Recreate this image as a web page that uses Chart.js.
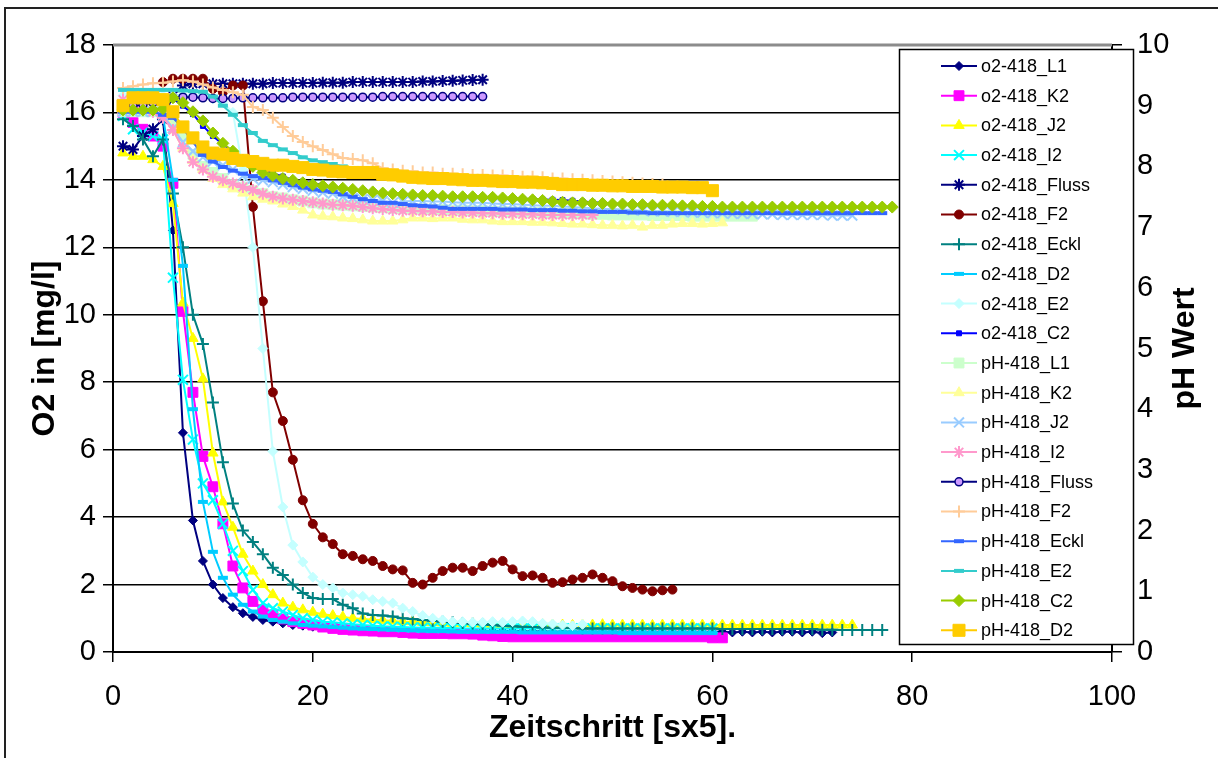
<!DOCTYPE html>
<html><head><meta charset="utf-8">
<script src="https://cdn.jsdelivr.net/npm/chart.js@4.4.1/dist/chart.umd.min.js"></script>
<style>html,body{margin:0;padding:0;background:#fff;}#wrap{width:1218px;height:758px;position:relative;}</style>
</head><body><div id="wrap"><canvas id="c" width="1218" height="758"></canvas></div>
<script>
// ---- DATA (x = time step 1,2,3,...) ----
const o2_L1 = [16.1,16.0,16.0,16.0,15.8,12.5,6.5,3.9,2.7,2.0,
 1.6,1.33,1.15,1.04,0.95,0.9,0.85,0.8,0.78,0.75,
 0.73,0.72,0.7,0.7,0.69,0.68,0.67,0.66,0.66,0.65,
 0.65,0.64,0.64,0.63,0.63,0.63,0.62,0.62,0.62,0.62,
 0.61,0.61,0.61,0.6,0.6,0.6,0.6,0.6,0.6,0.6,
 0.6,0.6,0.6,0.6,0.6,0.6,0.6,0.6,0.6,0.6,
 0.6,0.58,0.6,0.58,0.6,0.58,0.6,0.6,0.58,0.6,
 0.56,0.58];
const o2_K2 = [16.0,15.7,15.5,15.3,15.0,13.9,10.1,7.7,5.8,4.9,
 3.8,2.55,1.9,1.5,1.25,1.1,0.98,0.9,0.85,0.8,
 0.74,0.7,0.67,0.65,0.63,0.62,0.6,0.6,0.58,0.56,
 0.55,0.55,0.55,0.54,0.54,0.53,0.5,0.48,0.46,0.45,
 0.45,0.45,0.45,0.45,0.45,0.45,0.45,0.45,0.45,0.45,
 0.45,0.45,0.45,0.45,0.45,0.45,0.45,0.45,0.45,0.42,0.42];
const o2_J2 = [14.8,14.7,14.7,14.6,14.4,13.3,10.35,9.3,8.1,5.9,
 4.45,3.7,2.9,2.4,2.0,1.7,1.45,1.33,1.25,1.18,
 1.12,1.08,1.04,1.0,0.98,0.96,0.94,0.92,0.9,0.9,
 0.88,0.87,0.86,0.85,0.85,0.84,0.83,0.82,0.82,0.8,
 0.8,0.8,0.81,0.8,0.8,0.79,0.8,0.8,0.81,0.8,
 0.8,0.8,0.8,0.79,0.8,0.8,0.8,0.8,0.8,0.8,
 0.8,0.8,0.8,0.8,0.8,0.8,0.8,0.8,0.8,0.8,
 0.8,0.8,0.8,0.8];
const o2_I2 = [15.9,15.5,15.4,15.3,15.2,11.1,8.07,6.3,5.0,4.5,
 3.8,3.0,2.4,1.84,1.45,1.3,1.2,1.1,1.0,0.95,
 0.9,0.88,0.85,0.82,0.8,0.78,0.76,0.75,0.74,0.73,
 0.72,0.72,0.71,0.71,0.7,0.7,0.7,0.7,0.7,0.7,
 0.7,0.7,0.7,0.7,0.7,0.7,0.7,0.7,0.7,0.7,
 0.7,0.7,0.7,0.7,0.7,0.7,0.7,0.7,0.7,0.7];
const o2_Fluss = [15.0,14.9,15.3,15.5,15.8,16.5,16.8,16.85,16.85,16.85,
 16.85,16.85,16.85,16.85,16.85,16.87,16.87,16.87,16.87,16.87,
 16.88,16.88,16.88,16.9,16.9,16.9,16.9,16.9,16.9,16.9,
 16.92,16.92,16.93,16.94,16.95,16.96,16.97];
const o2_F2 = [null,null,null,null,16.9,17.0,17.0,17.0,17.0,16.7,
 16.6,16.8,16.8,13.2,10.4,7.7,6.85,5.7,4.5,3.8,
 3.4,3.2,2.9,2.85,2.75,2.7,2.55,2.45,2.42,2.05,
 2.0,2.2,2.4,2.5,2.5,2.4,2.55,2.65,2.7,2.45,
 2.25,2.27,2.2,2.05,2.07,2.15,2.2,2.3,2.2,2.1,
 1.95,1.9,1.85,1.8,1.83,1.85];
const o2_Eckl = [15.8,15.6,15.2,14.7,15.2,13.6,12.0,10.0,9.13,7.4,
 5.63,4.4,3.6,3.26,2.9,2.5,2.28,2.0,1.75,1.6,
 1.57,1.57,1.4,1.3,1.14,1.1,1.08,1.05,1.0,0.98,
 0.95,0.93,0.9,0.88,0.86,0.84,0.82,0.8,0.78,0.76,
 0.75,0.74,0.73,0.72,0.72,0.71,0.7,0.7,0.7,0.7,
 0.7,0.7,0.7,0.7,0.7,0.7,0.7,0.7,0.7,0.7,
 0.68,0.68,0.68,0.68,0.68,0.68,0.68,0.68,0.68,0.68,
 0.66,0.66,0.65,0.65,0.65,0.65,0.65];
const o2_D2 = [16.1,16.1,16.0,16.0,15.9,14.0,11.45,7.2,4.45,2.97,
 2.2,1.7,1.4,1.2,1.05,0.95,0.9,0.85,0.8,0.78,
 0.76,0.74,0.72,0.7,0.69,0.68,0.67,0.66,0.65,0.64,
 0.63,0.62,0.62,0.61,0.6,0.6,0.6,0.6,0.6,0.6,
 0.58,0.58,0.58,0.58,0.58,0.58,0.58,0.58,0.58,0.58,
 0.56,0.56,0.56,0.56,0.56,0.56,0.56,0.56,0.56,0.56];
const o2_E2 = [16.5,16.5,16.5,16.5,16.5,16.5,16.5,16.5,16.5,16.4,
 16.3,16.0,14.3,12.0,9.0,5.95,4.3,3.17,2.67,2.22,
 2.0,1.9,1.75,1.7,1.65,1.55,1.5,1.45,1.3,1.2,
 1.08,1.0,0.95,0.9,0.9,0.88,0.88,0.9,0.88,0.9,
 0.92,0.9,0.85,0.83,0.8,0.78,0.82];
const o2_C2 = [16.2,16.2,16.2,16.2,16.3,16.4,16.2,15.95,15.6,15.3,
 15.05,14.85,14.6,14.45,14.3,14.2,14.1,14.0,13.95,13.9,
 13.85,13.8,13.75,13.7,13.67,13.64,13.6,13.58,13.56,13.55,
 13.54,13.53,13.52,13.51,13.5,13.49,13.48,13.47,13.46,13.45,
 13.44,13.43,13.42,13.41,13.4,13.38,13.36,13.34,13.32,13.3,
 13.29,13.28,13.27,13.26,13.25,13.24,13.23,13.22,13.21,13.2,
 13.2,13.2,13.2,13.2,13.2,13.2,13.2,13.2,13.2,13.2,
 13.2,13.2,13.2,13.2,13.2,13.2,13.2,13.2];
const pH_L1 = [8.9,8.9,8.9,8.9,8.9,8.76,8.5,8.2,8.0,7.9,
 7.8,7.7,7.65,7.6,7.55,7.5,7.48,7.45,7.43,7.4,
 7.38,7.37,7.36,7.35,7.34,7.33,7.32,7.31,7.31,7.3,
 7.3,7.29,7.29,7.28,7.28,7.27,7.27,7.26,7.26,7.25,
 7.25,7.24,7.24,7.23,7.23,7.22,7.22,7.21,7.21,7.2,
 7.2,7.2,7.2,7.19,7.19,7.19,7.19,7.18,7.18,7.18,
 7.18,7.18,7.18,7.18];
const pH_K2 = [9.0,9.0,9.0,9.0,9.0,8.6,8.3,8.1,7.95,7.8,
 7.7,7.63,7.56,7.5,7.46,7.43,7.38,7.34,7.28,7.2,
 7.18,7.17,7.15,7.14,7.12,7.1,7.1,7.1,7.12,7.15,
 7.15,7.14,7.15,7.15,7.13,7.12,7.12,7.1,7.09,7.09,
 7.09,7.08,7.08,7.07,7.06,7.05,7.05,7.04,7.03,7.03,
 7.02,7.03,7.0,7.03,7.03,7.05,7.06,7.06,7.05,7.06,7.07];
const pH_J2 = [8.9,8.9,8.9,8.9,8.85,8.63,8.4,8.25,8.15,8.08,
 8.02,7.95,7.84,7.8,7.77,7.74,7.7,7.66,7.63,7.6,
 7.57,7.55,7.5,7.48,7.46,7.45,7.43,7.4,7.42,7.43,
 7.43,7.42,7.42,7.41,7.4,7.4,7.4,7.39,7.38,7.38,
 7.37,7.36,7.35,7.35,7.34,7.33,7.32,7.31,7.3,7.3,
 7.29,7.28,7.27,7.26,7.26,7.25,7.25,7.24,7.24,7.23,
 7.23,7.22,7.22,7.22,7.21,7.21,7.2,7.2,7.2,7.2,
 7.2,7.19,7.19,7.19];
const pH_I2 = [9.1,9.0,8.95,8.9,8.8,8.6,8.3,8.07,7.95,7.83,
 7.77,7.72,7.66,7.61,7.55,7.5,7.47,7.45,7.43,7.41,
 7.39,7.37,7.36,7.35,7.33,7.31,7.3,7.28,7.27,7.27,
 7.26,7.26,7.25,7.25,7.24,7.24,7.23,7.23,7.22,7.22,
 7.21,7.21,7.2,7.2,7.2,7.2,7.2,7.2];
const pH_Fluss = [8.95,9.0,9.02,9.05,9.1,9.13,9.14,9.14,9.13,9.12,
 9.12,9.12,9.13,9.13,9.13,9.13,9.13,9.14,9.14,9.14,
 9.14,9.14,9.14,9.14,9.14,9.14,9.15,9.15,9.15,9.15,
 9.15,9.15,9.15,9.15,9.15,9.15,9.15];
const pH_F2 = [9.29,9.32,9.35,9.37,9.38,9.4,9.42,9.4,9.35,9.3,
 9.26,9.22,9.18,8.98,8.93,8.8,8.65,8.5,8.4,8.33,
 8.27,8.2,8.14,8.12,8.1,8.05,7.97,7.95,7.93,7.92,
 7.9,7.9,7.88,7.88,7.87,7.86,7.86,7.85,7.85,7.84,
 7.83,7.83,7.82,7.8,7.8,7.79,7.78,7.77,7.76,7.75,
 7.74,7.73,7.72,7.71,7.7];
const pH_Eckl = [8.9,8.9,8.9,8.9,8.85,8.8,8.63,8.4,8.19,8.08,
 7.99,7.93,7.88,7.84,7.81,7.77,7.73,7.69,7.65,7.62,
 7.6,7.58,7.54,7.5,7.46,7.43,7.4,7.4,7.38,7.36,
 7.35,7.34,7.32,7.3,7.3,7.3,7.3,7.3,7.29,7.29,
 7.29,7.28,7.28,7.28,7.27,7.27,7.26,7.26,7.25,7.25,
 7.25,7.24,7.24,7.23,7.23,7.23,7.23,7.23,7.23,7.23,
 7.23,7.23,7.23,7.23,7.23,7.23,7.23,7.23,7.23,7.23,
 7.23,7.23,7.23,7.23,7.23,7.23,7.23];
const pH_E2 = [9.26,9.26,9.26,9.26,9.26,9.26,9.25,9.24,9.23,9.15,
 9.0,8.85,8.68,8.55,8.42,8.35,8.28,8.22,8.15,8.1,
 8.07,8.04,8.0,7.97,7.95,7.92,7.9,7.88,7.86,7.85,
 7.84,7.83,7.82,7.81,7.8,7.8,7.79,7.78,7.78,7.77,
 7.76,7.76,7.75,7.74,7.74,7.73,7.72,7.72,7.71,7.7];
const pH_C2 = [8.93,8.93,8.93,8.93,8.95,9.13,9.05,8.9,8.75,8.55,
 8.38,8.25,8.1,8.0,7.9,7.85,7.8,7.77,7.73,7.7,
 7.68,7.66,7.64,7.62,7.6,7.58,7.56,7.55,7.54,7.53,
 7.52,7.52,7.51,7.5,7.5,7.5,7.49,7.49,7.48,7.47,
 7.46,7.45,7.44,7.42,7.41,7.4,7.4,7.39,7.39,7.38,
 7.38,7.37,7.37,7.36,7.36,7.36,7.35,7.35,7.34,7.34,
 7.33,7.33,7.33,7.33,7.33,7.33,7.33,7.33,7.33,7.33,
 7.33,7.33,7.33,7.33,7.33,7.33,7.33,7.33];
const pH_D2 = [9.0,9.13,9.13,9.13,9.1,8.9,8.65,8.47,8.32,8.22,
 8.2,8.13,8.1,8.08,8.05,8.02,8.02,8.0,7.98,7.95,
 7.94,7.92,7.91,7.9,7.9,7.9,7.87,7.86,7.84,7.82,
 7.81,7.8,7.8,7.79,7.78,7.77,7.77,7.76,7.75,7.75,
 7.74,7.74,7.73,7.72,7.7,7.7,7.7,7.69,7.69,7.68,
 7.68,7.67,7.67,7.67,7.66,7.66,7.66,7.65,7.65,7.6];

const seriesNames = ['o2-418_L1','o2-418_K2','o2-418_J2','o2-418_I2','o2-418_Fluss','o2-418_F2','o2-418_Eckl','o2-418_D2','o2-418_E2','o2-418_C2',
 'pH-418_L1','pH-418_K2','pH-418_J2','pH-418_I2','pH-418_Fluss','pH-418_F2','pH-418_Eckl','pH-418_E2','pH-418_C2','pH-418_D2'];
const seriesValues = [o2_L1,o2_K2,o2_J2,o2_I2,o2_Fluss,o2_F2,o2_Eckl,o2_D2,o2_E2,o2_C2,
 pH_L1,pH_K2,pH_J2,pH_I2,pH_Fluss,pH_F2,pH_Eckl,pH_E2,pH_C2,pH_D2];
const o2Ticks = [0,2,4,6,8,10,12,14,16,18];
const pHTicks = [0,1,2,3,4,5,6,7,8,9,10];
const xTicks = [0,20,40,60,80,100];

// ---- STYLES ----
const styles = [
 {c:'#000080', ps:'rectRot', r:4.5},
 {c:'#FF00FF', ps:'rect', r:7},
 {c:'#FFFF00', ps:'triangle', r:6},
 {c:'#00FFFF', ps:'crossRot', r:7, bw:2},
 {c:'#000080', ps:'star', r:6, bw:2},
 {c:'#800000', ps:'circle', r:4.5},
 {c:'#008080', ps:'cross', r:6, bw:2},
 {c:'#00CCFF', ps:'line', r:5, bw:4},
 {c:'#C4FFFF', ps:'rectRot', r:5},
 {c:'#0000FF', ps:'rect', r:3.5},
 {c:'#CCFFCC', ps:'rect', r:7},
 {c:'#FFFF99', ps:'triangle', r:6},
 {c:'#99CCFF', ps:'crossRot', r:7, bw:2},
 {c:'#FF99CC', ps:'star', r:6, bw:2},
 {c:'#000080', ps:'circle', r:4, fill:'#CC99FF', bw:1.5},
 {c:'#FFCC99', ps:'cross', r:6, bw:2},
 {c:'#3366FF', ps:'line', r:5, bw:4},
 {c:'#33CCCC', ps:'line', r:5, bw:4},
 {c:'#99CC00', ps:'rectRot', r:6},
 {c:'#FFCC00', ps:'rect', r:8.5}
];

const N = seriesNames.length;
const datasets = seriesNames.map((name, i) => {
  const s = styles[i];
  return {
    label: name,
    data: seriesValues[i].map((v, k) => ({x: k + 1, y: v})),
    yAxisID: i < 10 ? 'y' : 'y2',
    borderColor: s.c,
    backgroundColor: s.c,
    borderWidth: 2,
    pointStyle: s.ps,
    pointRadius: s.r,
    pointHoverRadius: s.r,
    pointBackgroundColor: s.fill || s.c,
    pointBorderColor: s.c,
    pointBorderWidth: s.bw || 1,
    tension: 0,
    spanGaps: false,
    order: N - i
  };
});

const FONT = "'Liberation Sans', Arial, sans-serif";

const framePlugin = {
  id: 'frame',
  beforeDraw(chart) {
    const ctx = chart.ctx;
    ctx.save();
    ctx.fillStyle = '#fff';
    ctx.fillRect(0, 0, chart.width, chart.height);
    ctx.strokeStyle = '#222';
    ctx.lineWidth = 2;
    ctx.beginPath();
    ctx.moveTo(5, 760); ctx.lineTo(5, 8); ctx.lineTo(1220, 8);
    ctx.stroke();
    ctx.restore();
  },
  afterDraw(chart) {
    const ctx = chart.ctx;
    const ca = chart.chartArea;
    ctx.save();
    // grey plot-area top border
    ctx.strokeStyle = '#8c8c8c';
    ctx.lineWidth = 3;
    ctx.beginPath(); ctx.moveTo(ca.left, ca.top); ctx.lineTo(ca.right, ca.top); ctx.stroke();
    // right axis title
    ctx.fillStyle = '#000';
    ctx.font = "bold 32px " + FONT;
    ctx.textAlign = 'center';
    ctx.textBaseline = 'middle';
    ctx.translate(1185, (ca.top + ca.bottom) / 2);
    ctx.rotate(-Math.PI / 2);
    ctx.fillText('pH Wert', 0, 0);
    ctx.restore();

    // legend box
    ctx.save();
    const bx = 899.5, by = 49.5, bw = 234, bh = 595;
    ctx.fillStyle = '#fff';
    ctx.fillRect(bx, by, bw, bh);
    ctx.strokeStyle = '#000';
    ctx.lineWidth = 1.5;
    ctx.strokeRect(bx, by, bw, bh);
    ctx.font = "18px " + FONT;
    ctx.textBaseline = 'middle';
    ctx.textAlign = 'left';
    chart.data.datasets.forEach((ds, i) => {
      const y = 66 + i * 29.7;
      ctx.strokeStyle = ds.borderColor;
      ctx.lineWidth = 2;
      ctx.beginPath(); ctx.moveTo(941, y); ctx.lineTo(977, y); ctx.stroke();
      ctx.fillStyle = ds.pointBackgroundColor;
      ctx.strokeStyle = ds.pointBorderColor;
      ctx.lineWidth = ds.pointBorderWidth;
      const opts = {pointStyle: ds.pointStyle, rotation: 0, radius: ds.pointRadius, borderWidth: ds.pointBorderWidth};
      if (Chart.helpers && Chart.helpers.drawPoint) {
        Chart.helpers.drawPoint(ctx, opts, 959, y);
      }
      ctx.fillStyle = '#000';
      ctx.fillText(ds.label, 981, y + 1);
    });
    ctx.restore();
  }
};

new Chart(document.getElementById('c'), {
  type: 'line',
  data: { datasets },
  options: {
    responsive: false,
    animation: false,
    devicePixelRatio: 1,
    layout: { padding: { top: 45, left: 0, right: 0, bottom: 0 } },
    plugins: { legend: { display: false }, tooltip: { enabled: false } },
    elements: { line: { fill: false } },
    scales: {
      x: {
        type: 'linear', min: 0, max: 100,
        afterBuildTicks: (s) => { s.ticks = xTicks.map(v => ({value: v})); },
        ticks: { font: { family: FONT, size: 29 }, color: '#000', padding: 18, maxRotation: 0 },
        grid: { drawOnChartArea: false, color: '#000', tickLength: 10, lineWidth: 1.5 },
        border: { color: '#000', width: 2 },
        title: { display: true, text: 'Zeitschritt [sx5].', color: '#000', font: { family: FONT, size: 32, weight: 'bold' }, padding: { top: 0, bottom: 11 } },
        afterFit: (s) => { s.height = 106; }
      },
      y: {
        position: 'left', min: 0, max: 18,
        afterBuildTicks: (s) => { s.ticks = o2Ticks.map(v => ({value: v})); },
        ticks: { font: { family: FONT, size: 29 }, color: '#000', padding: 7 },
        grid: { color: '#000', lineWidth: 1.5, tickLength: 10 },
        border: { color: '#000', width: 2 },
        title: { display: true, text: 'O2 in [mg/l]', color: '#000', font: { family: FONT, size: 32, weight: 'bold' }, padding: { top: 26, bottom: 0 } },
        afterFit: (s) => { s.width = 113; }
      },
      y2: {
        position: 'right', min: 0, max: 10,
        afterBuildTicks: (s) => { s.ticks = pHTicks.map(v => ({value: v})); },
        ticks: { font: { family: FONT, size: 29 }, color: '#000', padding: 15 },
        grid: { drawOnChartArea: false, color: '#000', tickLength: 10, lineWidth: 1.5 },
        border: { color: '#000', width: 2 },
        afterFit: (s) => { s.width = 106; }
      }
    }
  },
  plugins: [framePlugin]
});
</script>
</body></html>
